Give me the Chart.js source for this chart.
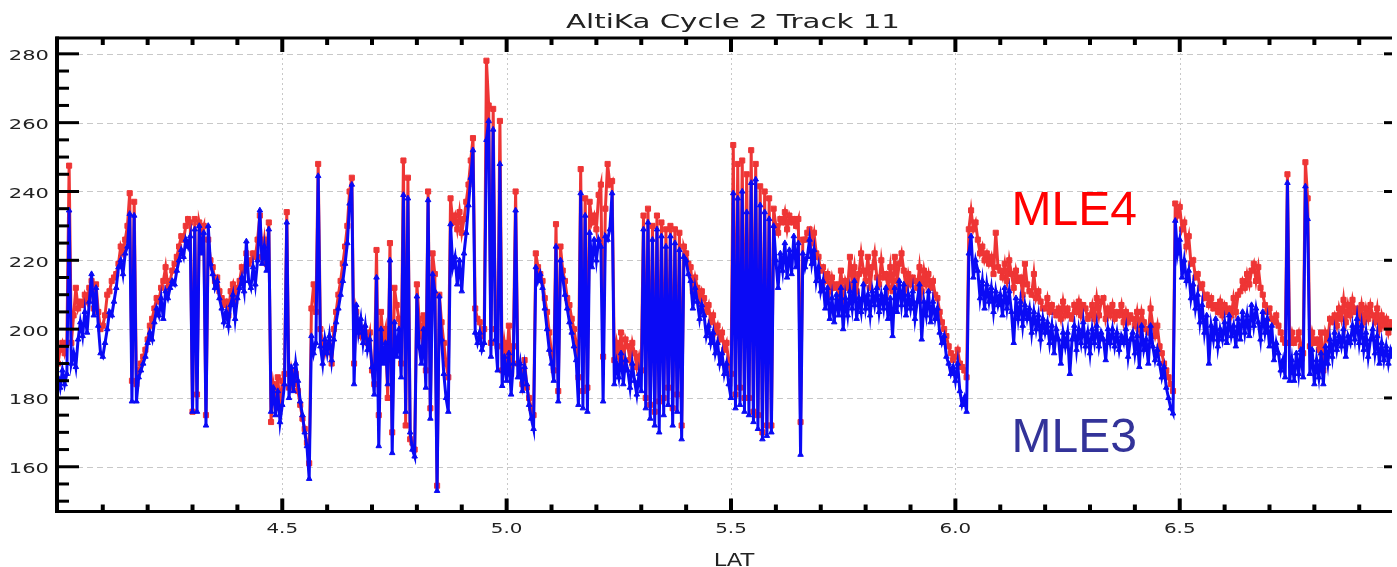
<!DOCTYPE html>
<html>
<head>
<meta charset="utf-8">
<title>AltiKa Cycle 2 Track 11</title>
<script src="https://cdn.jsdelivr.net/npm/chart.js@4.4.1/dist/chart.umd.min.js"></script>
<style>
  html, body { margin: 0; padding: 0; background: #fff; }
  #wrap { width: 1397px; height: 567px; }
</style>
</head>
<body>
<div id="wrap"><canvas id="c" width="1397" height="567"></canvas></div>
<script>
// along-track samples, fixed latitude spacing
const LAT_START = 4.0;
const LAT_STEP = 0.005;

// MLE3 (blue), 10 samples per 0.05 deg
const mle3 = [
  186,183,188,184,187,234.5,190,193,189,197,
  202,198,205,199,208,216,204,212,201,193,
  192,196,200,205,204,208,212,218,220,216,
  222,224,233.5,179,233,179,186,188,190,192,
  196,199,197,202,206,204,209,203,211,209,
  212,214,213,217,220,223,221,226,224,227,
  176,229,176,230,222,228,172,230,219,216,
  212,214,209,206,202,205,201,207,210,203,
  209,212,215,211,225.5,214,212,218,213,220,
  234.5,219,224,217,229,176,183,175,182,173,
  178,184,231,180,189,182,190,185,179,175,
  170,166,156.5,198,193,196,244.5,195,190,197,
  193,198,191,197,202,206,210,214,219,225,
  236.5,242,184,207,199,203,196,201,194,197,
  189,181,215,166,200,190,196,184,220,164,
  202,192,200,186,239,176,238,170,165,163,
  209.5,195,190,200,183,237.5,174,216,211,153,
  209.5,197,187,180,176,230.5,218,221,213,220,
  211,222,228,236,244,252,199,196,199,194,
  196,255,260.5,192,258,197,188,248,183.5,192,
  185,193,181,190,234.5,186,190,182,189,184,
  178,174,171,218,214,216,212,206,200,194,
  190,185,224,179,220,215,210,206,202,199,
  195,191,178,239.5,177,233,176,228,218,226,
  220,226,224,179,227,226,229,239.5,184,190,
  186,193,184,191,188,183,190,185,181,187,
  182,229,177,231,174,226,172,229,170,227,
  175,224,178,227,172,225,176,223,168,221,
  220,216,214,206,212,208,203,207,204,198,
  201,196,199,193,196,190,193,187,190,184,
  180,239.5,177,238,178,240,176,234,175,242.5,
  173,243.5,171,236,168,234,169,232,170,230,
  220,212,222,217,225,215,223,216,227,218,
  225,163.5,222,218,221,226,219,223,214,218,
  211,214,206,212,203,209,202,210,204,212,
  200,209,204,211,206,214,203,209,205,213,
  206,210,204,211,207,212,205,210,206,212,
  203,209,198,212,205,214,207,213,204,210,
  206,211,203,208,213,197,208,204,211,202,
  208,203,206,199,196,198,192,190,187,189,
  185,190,182,178,180,176,222,227,215,220,
  217,209,214,206,213,208,212,205,211,207,
  210,204,212,206,211,205,196,209,203,208,
  201,207,203,206,199,205,200,204,197,203,
  199,202,196,201,193,200,197,190,199,195,
  199,187,197,201,194,200,196,202,195,199,
  193,200,196,201,195,199,197,191,200,196,
  200,195,199,194,198,196,200,192,197,199,
  193,198,189,201,194,197,190,201,195,191,
  194,190,186,189,183,180,177,175.5,231.5,222,
  226,215,220,214,217,209,213,206,210,202,
  207,199,204,190,201,197,203,195,200,197,
  202,196,204,198,201,195,203,197,205,199,
  204,198,207,201,206,202,197,205,199,203,
  195,201,191,196,193,188,191,186,242.5,185,
  191,185,193,187,194,186,241.5,232,187,194,
  184,191,186,193,184,195,190,197,192,199,
  194,198,195,200,192,198,196,201,197,203,
  196,201,194,199,192,197,200,193,198,190,
  196,191,195,190,194,192
];

// MLE4 (red)
const mle4 = [
  190,194,196,193,196,247.5,196,204,212,206,
  208,207,210,208,212,214,206,213,205,200,
  201,204,210,211,214,215,216,219,224,222,
  226,230,239.5,185,237,184,188,190,192,194,
  197,201,203,206,209,208,212,214,218,212,
  214,217,219,221,224,227,226,230,232,231,
  176,232,181,231,228,230,175,226,220,218,
  214,215,211,209,207,208,204,211,213,208,
  212,214,218,217,222,219,220,222,221,226,
  233,221,226,219,231,173,184,180,186,177,
  185,187,234,183,188,184,187,182,178,174,
  171,167,161,206,213,205,248,200,196,193,
  196,195,190,200,205,210,214,219,224,230,
  240,244,190,205,201,198,200,197,196,199,
  188,184,223,175,205,197,200,180,225,170,
  212,207,203,190,249,172,244,168,167,165,
  213,203,198,204,188,240,177,222,216,154.5,
  210,202,196,190,186,238,231,233,229,234,
  228,232,237,242,249,255.5,206,203,202,198,
  200,278,265,196,264,200,195,260.5,188,196,
  191,201,187,195,240,190,188,184,191,183,
  180,177,175,222,218,216,214,209,205,199,
  193,188,230.5,182,224,217,214,209,207,203,
  200,196,186,246.5,182,238,183,237,231,233,
  229,239,242,192,235,248,242,243,191,196,
  192,199,190,197,195,191,196,193,189,192,
  188,233,180,235,178,230,176,233,179,231,
  180,229,183,230,177,229,181,228,172,224,
  222,219,218,211,215,212,208,211,209,205,
  207,202,204,199,201,197,199,194,196,190,
  187,253.5,181,248,183,249,180,245,180,252,
  176,248,175,241.5,170,240,172,238,172,235,
  230,228,232,231,234,229,233,231,232,230,
  232,173,226,226,228,229,225,228,222,221,
  217,218,214,216,211,215,212,213,210,217,
  208,214,212,221,213,218,211,216,222,217,
  214,221,212,218,222,215,213,220,215,216,
  212,218,211,221,214,219,222,217,212,216,
  213,215,214,212,218,211,217,213,216,212,
  214,210,209,205,202,200,198,195,193,191,
  192,194,190,189,188,186,229,234.5,229,231,
  226,222,224,220,222,219,221,216,228,218,
  217,215,219,214,220,216,212,217,214,215,
  210,219,213,211,210,216,209,211,208,206,
  206,209,205,207,205,204,206,203,208,204,
  206,204,203,207,205,208,204,207,206,203,
  204,207,203,209,204,208,209,203,206,204,
  207,203,205,204,207,202,205,202,204,203,
  201,205,200,205,202,200,199,206,201,198,
  201,195,193,190,188,186,184,182,236.5,233,
  235.5,229,231,224,227,219,220,215,216,212,
  213,209,210,207,209,206,207,205,208,204,
  207,205,206,204,209,205,210,211,214,212,
  216,213,217,219,214,218,212,210,207,205,
  206,203,202,204,201,199,197,196,245,196,
  199,196,197,199,195,193,248.5,238,195,199,
  196,197,194,199,188,199,197,203,202,204,
  201,206,203,208.5,202,207,204,208.5,205,206,
  203,207,202,206,203,207,204,202,206,200,
  204,201,203,199,202,201
];

const X_TICKS = [4.5, 5.0, 5.5, 6.0, 6.5];
const X_LABELS = ['4.5', '5.0', '5.5', '6.0', '6.5'];
const Y_TICKS = [160, 180, 200, 220, 240, 260, 280];
const Y_LABELS = ['160', '180', '200', '220', '240', '260', '280'];

const TITLE = 'AltiKa Cycle 2 Track 11';
const X_TITLE = 'LAT';
const NOTES = [
  { text: 'MLE4', lat: 6.125, val: 230.3, color: '#ff0000' },
  { text: 'MLE3', lat: 6.125, val: 164.4, color: '#333399' }
];

function toPoints(vals){
  return vals.map((v, i) => ({ x: +(LAT_START + i * LAT_STEP).toFixed(3), y: v }));
}

// text in the original is horizontally stretched
function stretchText(ctx, txt, x, y, font, sx, align, color){
  ctx.save();
  ctx.font = font;
  ctx.fillStyle = color || '#222';
  ctx.textAlign = align || 'center';
  ctx.textBaseline = 'alphabetic';
  ctx.translate(x, y);
  ctx.scale(sx, 1);
  ctx.fillText(txt, 0, 0);
  ctx.restore();
}

const framePlugin = {
  id: 'frame',
  beforeDatasetsDraw(chart){
    const { ctx, chartArea: ca, scales: { x, y } } = chart;
    ctx.save();
    ctx.lineWidth = 1;
    ctx.strokeStyle = '#c8c8c8';
    ctx.setLineDash([6, 4]);
    Y_TICKS.forEach(v => {
      const py = Math.round(y.getPixelForValue(v)) + 0.5;
      ctx.beginPath(); ctx.moveTo(ca.left, py); ctx.lineTo(ca.right, py); ctx.stroke();
    });
    ctx.setLineDash([2, 3]);
    X_TICKS.forEach(v => {
      const px = Math.round(x.getPixelForValue(v)) + 0.5;
      ctx.beginPath(); ctx.moveTo(px, ca.top); ctx.lineTo(px, ca.bottom); ctx.stroke();
    });
    ctx.restore();
  },
  afterDraw(chart){
    const { ctx, chartArea: ca, scales: { x, y } } = chart;
    ctx.save();
    ctx.strokeStyle = '#000';
    ctx.setLineDash([]);

    // frame
    ctx.lineWidth = 3;
    ctx.beginPath();
    ctx.moveTo(ca.right, ca.top); ctx.lineTo(ca.left, ca.top);
    ctx.lineTo(ca.left, ca.bottom); ctx.lineTo(ca.right, ca.bottom);
    ctx.stroke();
    ctx.lineWidth = 4;
    ctx.beginPath(); ctx.moveTo(ca.left, ca.top - 1.5); ctx.lineTo(ca.left, ca.bottom + 1.5); ctx.stroke();

    // y ticks (inside, left + right)
    ctx.lineWidth = 3;
    for(let v = 150; v <= 284; v += 5){
      const py = y.getPixelForValue(v);
      const major = v % 20 === 0;
      ctx.beginPath(); ctx.moveTo(ca.left, py); ctx.lineTo(ca.left + (major ? 22 : 12), py); ctx.stroke();
      if(major){
        ctx.beginPath(); ctx.moveTo(ca.right - 8, py); ctx.lineTo(ca.right, py); ctx.stroke();
      }
    }
    // x ticks (inside, bottom + top)
    ctx.lineWidth = 4;
    for(let k = 41; k <= 69; k++){
      const v = k / 10;
      const px = x.getPixelForValue(v);
      const major = k % 5 === 0;
      ctx.beginPath(); ctx.moveTo(px, ca.bottom); ctx.lineTo(px, ca.bottom - (major ? 13 : 7)); ctx.stroke();
      ctx.beginPath(); ctx.moveTo(px, ca.top); ctx.lineTo(px, ca.top + (major ? 14 : 7)); ctx.stroke();
    }
    ctx.restore();

    // labels
    Y_TICKS.forEach((v, i) => {
      stretchText(ctx, Y_LABELS[i], 49, y.getPixelForValue(v) + 6.5, '14.5px "DejaVu Sans"', 1.45, 'right');
    });
    X_TICKS.forEach((v, i) => {
      stretchText(ctx, X_LABELS[i], x.getPixelForValue(v), 533, '14.5px "DejaVu Sans"', 1.37, 'center');
    });
    stretchText(ctx, TITLE, 733, 28, '19px "DejaVu Sans"', 1.54, 'center');
    stretchText(ctx, X_TITLE, 734, 566, '17px "DejaVu Sans"', 1.33, 'center');

    NOTES.forEach(n => {
      stretchText(ctx, n.text, x.getPixelForValue(n.lat), y.getPixelForValue(n.val),
        '48px "Liberation Sans"', 1, 'left', n.color);
    });
  }
};

new Chart(document.getElementById('c'), {
  type: 'line',
  data: {
    datasets: [
      {
        label: 'MLE3',
        data: toPoints(mle3),
        order: 1,
        borderColor: '#0a0af5',
        backgroundColor: '#0a0af5',
        borderWidth: 3,
        pointStyle: 'triangle',
        pointRadius: 3.2,
        pointBorderWidth: 1,
        tension: 0,
        fill: false
      },
      {
        label: 'MLE4',
        data: toPoints(mle4),
        order: 2,
        borderColor: '#ee3535',
        backgroundColor: '#ee3535',
        borderWidth: 3,
        pointStyle: 'rect',
        pointRadius: 3.6,
        pointBorderWidth: 1,
        tension: 0,
        fill: false
      }
    ]
  },
  options: {
    responsive: false,
    maintainAspectRatio: false,
    devicePixelRatio: 1,
    animation: false,
    layout: { padding: { top: 38, right: 0, left: 0, bottom: 0 } },
    plugins: { legend: { display: false }, title: { display: false }, tooltip: { enabled: false } },
    scales: {
      x: {
        type: 'linear',
        min: 3.998,
        max: 6.973,
        grid: { display: false },
        border: { display: false },
        ticks: { display: false },
        afterBuildTicks: s => { s.ticks = X_TICKS.map(v => ({ value: v })); },
        afterFit: s => { s.height = 55.5; }
      },
      y: {
        min: 147,
        max: 284.6,
        grid: { display: false },
        border: { display: false },
        ticks: { display: false },
        afterBuildTicks: s => { s.ticks = Y_TICKS.map(v => ({ value: v })); },
        afterFit: s => { s.width = 57; }
      }
    }
  },
  plugins: [framePlugin]
});
</script>
</body>
</html>
